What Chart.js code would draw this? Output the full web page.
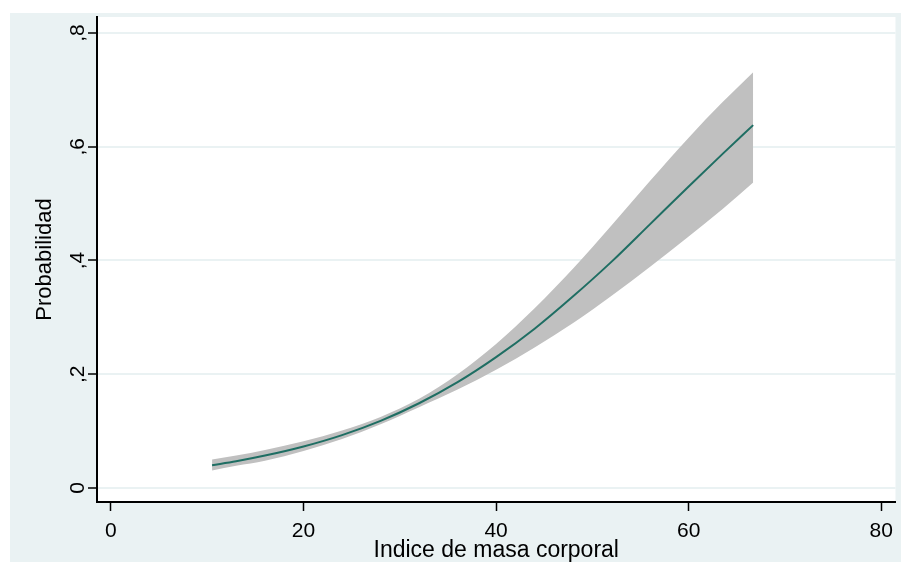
<!DOCTYPE html>
<html>
<head>
<meta charset="utf-8">
<script src="https://cdn.jsdelivr.net/npm/chart.js@4"></script>
<style>
  html, body { margin: 0; padding: 0; background: #ffffff; overflow: hidden; }
  #wrap { width: 901px; height: 562px; }
  canvas { display: block; }
</style>
</head>
<body>
<div id="wrap"><canvas id="probChart" width="901" height="562"></canvas></div>
<script>
/* ================= DATA ================= */
// indice de masa corporal (x) and predicted probability with its band
const imc      = [10.5, 13, 16, 20, 24, 28, 32, 36, 40, 44, 48, 52, 56, 60, 63.5, 66.7];
const prob     = [0.040, 0.047, 0.057, 0.073, 0.093, 0.118, 0.149, 0.186, 0.230, 0.280, 0.337, 0.398, 0.464, 0.530, 0.587, 0.638];
const probHigh = [0.050, 0.057, 0.067, 0.082, 0.101, 0.125, 0.157, 0.200, 0.253, 0.316, 0.386, 0.462, 0.540, 0.616, 0.678, 0.731];
const probLow  = [0.031, 0.039, 0.048, 0.065, 0.086, 0.112, 0.142, 0.173, 0.208, 0.247, 0.290, 0.338, 0.389, 0.442, 0.490, 0.537];

const xTicks = [0, 20, 40, 60, 80];
const yTicks = [0, 0.2, 0.4, 0.6, 0.8];

const xTitle = "Indice de masa corporal";
const yTitle = "Probabilidad";

/* ================= HELPERS ================= */
const toPoints = ys => imc.map((x, i) => ({ x: x, y: ys[i] }));
// decimal comma, no leading zero: ",2" ",4" ...
const fmtComma = v => v === 0 ? "0" : String(v).replace(/^0\./, ",");

const PANEL = "#eaf2f3";
const FONT = "'Liberation Sans', Arial, sans-serif";

// graph region and plot region backgrounds
const backgrounds = {
  id: "backgrounds",
  beforeDraw(chart) {
    const { ctx, chartArea: a } = chart;
    ctx.save();
    ctx.fillStyle = "#ffffff";
    ctx.fillRect(0, 0, chart.width, chart.height);
    ctx.fillStyle = PANEL;
    ctx.fillRect(10, 13, chart.width - 10, chart.height - 13);
    ctx.fillStyle = "#ffffff";
    ctx.fillRect(a.left, a.top, a.right - a.left, a.bottom - a.top);
    ctx.restore();
  }
};

/* ================= CHART ================= */
new Chart(document.getElementById("probChart"), {
  type: "line",
  data: {
    datasets: [
      {
        label: "Probabilidad",
        data: toPoints(prob),
        borderColor: "#1f6e63",
        borderWidth: 2,
        pointRadius: 0,
        fill: false,
        cubicInterpolationMode: "monotone"
      },
      {
        label: "upper",
        data: toPoints(probHigh),
        borderWidth: 0,
        borderColor: "rgba(0,0,0,0)",
        backgroundColor: "#c0c0c0",
        pointRadius: 0,
        fill: "+1",
        cubicInterpolationMode: "monotone"
      },
      {
        label: "lower",
        data: toPoints(probLow),
        borderWidth: 0,
        borderColor: "rgba(0,0,0,0)",
        pointRadius: 0,
        fill: false,
        cubicInterpolationMode: "monotone"
      }
    ]
  },
  options: {
    responsive: false,
    animation: false,
    devicePixelRatio: 1,
    layout: { padding: { top: 17, right: 5, left: 0, bottom: 0 } },
    plugins: {
      legend: { display: false },
      tooltip: { enabled: false }
    },
    scales: {
      x: {
        type: "linear",
        min: -1.45,
        max: 81.48,
        afterFit: s => { s.height = 60; },
        afterBuildTicks: s => { s.ticks = xTicks.map(v => ({ value: v })); },
        border: { display: true, color: "#000", width: 2 },
        grid: {
          drawOnChartArea: false,
          drawTicks: true,
          tickLength: 9,
          tickColor: "#000",
          tickWidth: 1.5
        },
        ticks: {
          color: "#000",
          font: { family: FONT, size: 21 },
          padding: 8,
          maxRotation: 0,
          autoSkip: false
        },
        title: {
          display: true,
          text: xTitle,
          color: "#000",
          font: { family: FONT, size: 23 },
          padding: { top: 0, bottom: -2 }
        }
      },
      y: {
        type: "linear",
        min: -0.0246,
        max: 0.8281,
        afterFit: s => { s.width = 97; },
        afterBuildTicks: s => { s.ticks = yTicks.map(v => ({ value: v })); },
        border: { display: true, color: "#000", width: 2 },
        grid: {
          color: PANEL,
          lineWidth: 2,
          drawTicks: true,
          tickLength: 9,
          tickColor: "#000",
          tickWidth: 1.5
        },
        ticks: {
          color: "#000",
          font: { family: FONT, size: 21 },
          minRotation: 90,
          maxRotation: 90,
          crossAlign: "center",
          padding: 1,
          autoSkip: false,
          callback: v => fmtComma(v)
        },
        title: {
          display: true,
          text: yTitle,
          color: "#000",
          font: { family: FONT, size: 22 },
          padding: { top: 32, bottom: 0 }
        }
      }
    }
  },
  plugins: [backgrounds]
});
</script>
</body>
</html>
